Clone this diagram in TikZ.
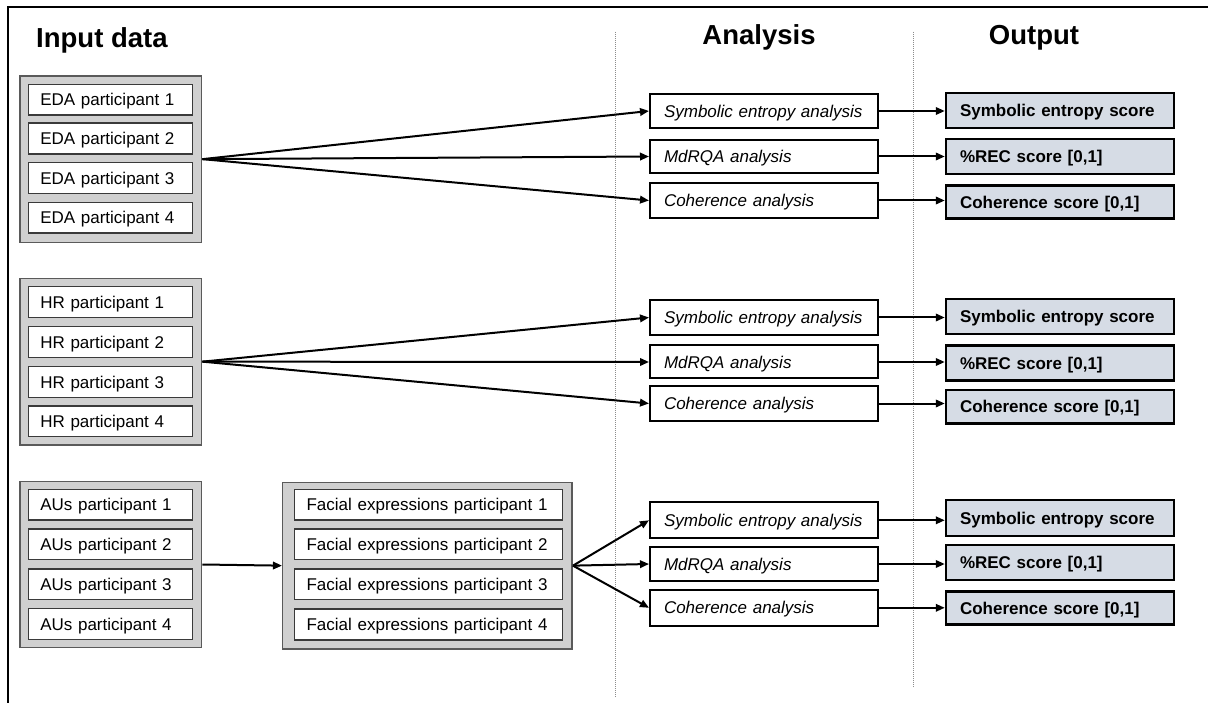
\documentclass[tikz,border=0pt]{standalone}
\usepackage{fontspec}
\setmainfont{Liberation Sans}
\usetikzlibrary{arrows.meta}
\definecolor{grpfill}{HTML}{D0D0D0}
\definecolor{grpdraw}{HTML}{5A5A5A}
\definecolor{boxdraw}{HTML}{3A3A3A}
\definecolor{outfill}{HTML}{D6DCE5}
\definecolor{dotc}{HTML}{8C8C8C}
\begin{document}
\begin{tikzpicture}[x=1pt,y=-1pt,
  every node/.style={font=\fontsize{17pt}{20pt}\selectfont},
  grp/.style={draw=grpdraw, fill=grpfill, line width=1.5pt, inner sep=0pt},
  inbox/.style={draw=boxdraw, fill=white, line width=1.5pt, inner ysep=0pt, inner xsep=12pt,
    text height=12.2pt, text depth=0pt, minimum height=30.7pt, align=left},
  anbox/.style={draw=black, fill=white, line width=2pt, inner ysep=0pt, inner xsep=14pt,
    text height=12.2pt, text depth=0pt, minimum height=34pt, text width=200pt, align=left,
    font=\fontsize{17pt}{20pt}\selectfont\itshape},
  outbox/.style={draw=black, fill=outfill, line width=2.5pt, inner ysep=0pt, inner xsep=14pt,
    text height=12.2pt, text depth=0pt, minimum height=35pt, text width=200pt, align=left,
    font=\fontsize{17pt}{20pt}\selectfont\bfseries},
  header/.style={font=\fontsize{27.5pt}{30pt}\selectfont\bfseries, inner sep=0pt},
  arr/.style={line width=2pt, -{Triangle[length=9pt,width=7.5pt]}},
  sep/.style={draw=dotc, line width=0.9pt, dash pattern=on 1pt off 1pt}
]
\useasboundingbox (0,0) rectangle (1208,703);

% frame
\draw[line width=2pt] (8,703) -- (8,7) -- (1208,7);

% headers
\node[header, anchor=base west] (hin) at (36,48) {Input data};
\node[header, anchor=base] (han) at (759,45) {Analysis};
\node[header, anchor=base] (hout) at (1034,45) {Output};

% separators
\coordinate (s1t) at (615.5,32);
\coordinate (s1b) at (615.5,698);
\coordinate (s2t) at (913,32);
\coordinate (s2b) at (913,688);
\draw[sep] (s1t) -- (s1b);
\draw[sep] (s2t) -- (s2b);

% groups
\node[grp, minimum width=181.7pt, minimum height=166.3pt] (edag) at (110.85,159.15) {};
\node[grp, minimum width=181.7pt, minimum height=166.7pt] (hrg) at (110.85,361.65) {};
\node[grp, minimum width=181.7pt, minimum height=165.6pt] (aug) at (110.85,564.5) {};
\node[grp, minimum width=289.5pt, minimum height=166.7pt] (feg) at (427.45,565.65) {};

% EDA
\node[inbox, text width=140pt] (eda1) at (110.3,99.7) {EDA participant 1};
\node[inbox, text width=140pt] (eda2) at (110.3,138.5) {EDA participant 2};
\node[inbox, text width=140pt] (eda3) at (110.3,178) {EDA participant 3};
\node[inbox, text width=140pt] (eda4) at (110.3,217.7) {EDA participant 4};
% HR
\node[inbox, text width=140pt] (hr1) at (110.3,302) {HR participant 1};
\node[inbox, text width=140pt] (hr2) at (110.3,342) {HR participant 2};
\node[inbox, text width=140pt] (hr3) at (110.3,382) {HR participant 3};
\node[inbox, text width=140pt] (hr4) at (110.3,421.3) {HR participant 4};
% AUs
\node[inbox, text width=140pt] (au1) at (110.3,504.7) {AUs participant 1};
\node[inbox, text width=140pt] (au2) at (110.3,544.2) {AUs participant 2};
\node[inbox, text width=140pt] (au3) at (110.3,584.2) {AUs participant 3};
\node[inbox, text width=140pt] (au4) at (110.3,624) {AUs participant 4};
% Facial
\node[inbox, text width=243.7pt] (fe1) at (428.45,504.7) {Facial expressions participant 1};
\node[inbox, text width=243.7pt] (fe2) at (428.45,544.2) {Facial expressions participant 2};
\node[inbox, text width=243.7pt] (fe3) at (428.45,584.2) {Facial expressions participant 3};
\node[inbox, text width=243.7pt] (fe4) at (428.45,624.5) {Facial expressions participant 4};

% analysis (top)
\node[anbox] (sea) at (764,111) {Symbolic entropy analysis};
\node[anbox, minimum height=33pt] (mda) at (764,156.5) {MdRQA analysis};
\node[anbox, minimum height=35.5pt] (coa) at (764,200.5) {Coherence analysis};
% analysis (middle)
\node[anbox, minimum height=35pt] (seb) at (764,317.5) {Symbolic entropy analysis};
\node[anbox, minimum height=33pt] (mdb) at (764,362) {MdRQA analysis};
\node[anbox, minimum height=34.7pt] (cob) at (764,403.5) {Coherence analysis};
% analysis (bottom)
\node[anbox, minimum height=36pt] (sec) at (764,520.3) {Symbolic entropy analysis};
\node[anbox, minimum height=33.4pt] (mdc) at (764,564) {MdRQA analysis};
\node[anbox, minimum height=35.7pt] (coc) at (764,607.8) {Coherence analysis};

% outputs (top)
\node[outbox] (seoa) at (1060,110.5) {Symbolic entropy score};
\node[outbox] (mdoa) at (1060,156.7) {\%REC score [0,1]};
\node[outbox, minimum height=33.4pt] (cooa) at (1060,202) {Coherence score [0,1]};
% outputs (middle)
\node[outbox] (seob) at (1060,316.5) {Symbolic entropy score};
\node[outbox] (mdob) at (1060,363.2) {\%REC score [0,1]};
\node[outbox, minimum height=33.4pt] (coob) at (1060,406.7) {Coherence score [0,1]};
% outputs (bottom)
\node[outbox, minimum height=36pt] (seoc) at (1060,518) {Symbolic entropy score};
\node[outbox] (mdoc) at (1060,562.7) {\%REC score [0,1]};
\node[outbox, minimum height=32.6pt] (cooc) at (1060,608) {Coherence score [0,1]};

% input -> analysis
\draw[arr] (edag.east) -- (sea.west);
\draw[arr] (edag.east) -- (mda.west);
\draw[arr] (edag.east) -- (coa.west);
\draw[arr] (hrg.east) -- (seb.west);
\draw[arr] (hrg.east) -- (mdb.west);
\draw[arr] (hrg.east) -- (cob.west);
\draw[arr] (aug.east) -- (feg.west);
\draw[arr] (feg.east) -- (sec.west);
\draw[arr] (feg.east) -- (mdc.west);
\draw[arr] (feg.east) -- (coc.west);

% analysis -> output
\draw[arr] (sea.east) -- (sea.east -| seoa.west);
\draw[arr] (mda.east) -- (mda.east -| mdoa.west);
\draw[arr] (coa.east) -- (coa.east -| cooa.west);
\draw[arr] (seb.east) -- (seb.east -| seob.west);
\draw[arr] (mdb.east) -- (mdb.east -| mdob.west);
\draw[arr] (cob.east) -- (cob.east -| coob.west);
\draw[arr] (sec.east) -- (sec.east -| seoc.west);
\draw[arr] (mdc.east) -- (mdc.east -| mdoc.west);
\draw[arr] (coc.east) -- (coc.east -| cooc.west);
\end{tikzpicture}
\end{document}
